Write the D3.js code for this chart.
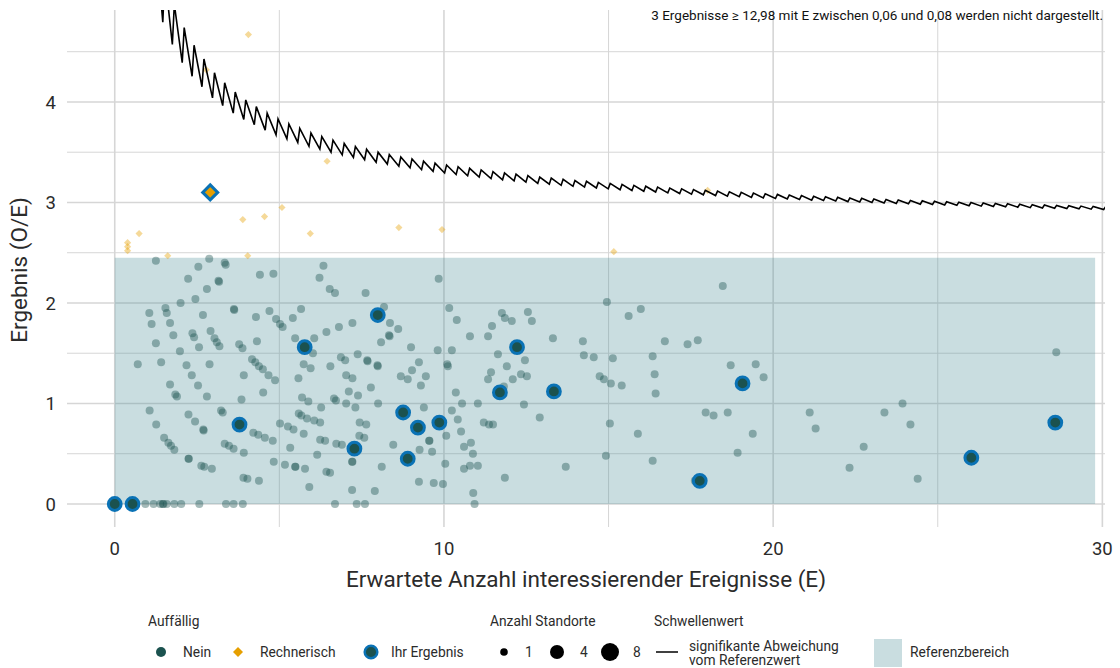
<!DOCTYPE html>
<html><head><meta charset="utf-8">
<script src="https://cdn.jsdelivr.net/npm/d3@7"></script>
<style>body{margin:0;background:#fff}svg{display:block;font-family:Roboto,"Noto Sans",sans-serif}</style>
</head><body><svg id="c" width="1120" height="668"></svg>
<script>
// ---------- data ----------
const xTicks=[0,10,20,30], xMinor=[5,15,25];
const yTicks=[0,1,2,3,4], yMinor=[0.5,1.5,2.5,3.5,4.5];
const refRange={e0:0,e1:29.78,lo:0,hi:2.45};
// "Nein" points
const neinE=[1.25,2.54,2.87,3.34,3.37,2.23,3.15,3.17,2.80,2.45,2.00,1.05,1.54,1.58,1.12,1.68,2.68,3.62,3.63,4.29,4.70,4.41,4.82,6.34,6.22,6.53,6.69,7.62,8.18,9.84,10.16,5.66,5.41,4.90,5.02,5.10,1.78,2.36,2.41,2.91,3.03,3.10,3.18,2.56,1.25,1.98,3.78,3.88,4.32,5.48,6.06,6.02,6.43,6.81,7.22,8.36,8.61,8.33,8.35,8.09,9.00,9.81,10.10,0.70,1.41,2.18,2.88,2.34,1.68,2.53,1.84,1.89,2.80,4.17,4.27,4.38,4.50,4.67,4.87,3.92,4.51,3.85,5.58,5.74,5.95,6.55,6.87,7.00,7.38,7.67,7.68,7.98,7.99,7.03,7.22,7.78,7.11,7.39,5.69,5.88,6.66,6.72,6.27,7.03,7.31,8.00,8.69,8.90,9.03,9.24,9.45,9.30,9.39,1.06,1.26,2.24,2.44,2.69,2.70,1.50,1.63,1.71,1.81,2.24,2.25,2.63,2.72,2.95,3.23,3.28,3.34,3.47,3.61,3.92,3.91,4.03,4.38,4.21,4.36,4.56,4.80,5.02,5.26,5.43,5.59,5.67,5.84,6.06,6.24,5.74,5.33,6.15,6.24,6.39,6.73,6.90,7.44,7.64,7.43,7.58,4.83,5.17,5.48,5.49,5.78,6.43,6.54,7.21,7.22,5.91,7.21,7.90,8.11,8.46,9.26,9.55,9.56,9.64,10.04,9.24,9.69,9.97,10.07,
0.93,1.18,1.38,1.46,1.48,1.58,1.81,2.02,2.57,3.38,3.61,3.89,6.69,7.35,7.60,10.93,10.89,
10.39,10.79,10.24,10.12,10.36,10.55,10.24,10.42,10.52,10.61,10.82,10.61,10.79,11.03,10.88,11.03,11.21,11.37,11.49,11.34,11.43,11.34,11.46,11.76,11.85,12.06,11.64,11.82,11.91,12.09,12.34,12.43,12.55,12.67,12.46,12.52,11.85,12.91,13.31,13.70,14.22,14.25,14.55,14.73,14.86,15.07,14.95,14.92,15.04,15.13,15.40,15.61,15.98,15.89,16.34,16.34,16.40,16.71,16.43,17.40,17.71,17.62,17.95,18.19,18.62,18.47,18.71,19.47,18.92,19.38,19.71,21.11,21.29,22.32,22.75,23.38,23.93,24.17,24.39,28.60];
const neinOE=[2.42,2.36,2.44,2.40,2.38,2.24,2.22,2.21,2.14,2.04,2.00,1.90,1.95,1.90,1.79,1.80,1.88,1.94,1.93,1.86,1.92,2.28,2.29,2.37,2.25,2.14,2.10,2.10,1.96,2.24,1.95,1.94,1.85,1.84,1.79,1.76,1.68,1.70,1.66,1.72,1.65,1.61,1.57,1.56,1.60,1.52,1.59,1.55,1.62,1.65,1.65,1.50,1.71,1.76,1.80,1.80,1.74,1.68,1.67,1.61,1.56,1.53,1.39,1.39,1.41,1.38,1.39,1.28,1.19,1.18,1.09,1.07,1.07,1.44,1.41,1.37,1.34,1.28,1.23,1.28,1.11,1.04,1.25,1.39,1.35,1.37,1.46,1.43,1.49,1.43,1.42,1.38,1.37,1.28,1.25,1.16,1.12,1.08,1.06,1.02,1.05,1.03,0.96,1.00,0.96,1.00,1.27,1.24,1.33,1.41,1.27,1.18,0.96,0.93,0.79,0.89,0.82,0.74,0.73,0.66,0.61,0.58,0.54,0.45,0.45,0.38,0.37,0.35,0.93,0.91,0.60,0.58,0.55,0.51,0.26,0.25,0.23,0.71,0.69,0.66,0.63,0.80,0.77,0.74,0.90,0.88,0.85,0.83,0.81,0.70,0.56,0.49,0.64,0.63,0.60,0.59,0.81,0.79,0.68,0.66,0.42,0.39,0.37,0.37,0.35,0.32,0.31,0.42,0.42,0.17,0.14,0.13,0.37,0.59,0.54,0.63,0.63,0.52,0.40,0.22,0.21,0.20,0.68,
0,0,0,0,0,0,0,0,0,0,0,0,0,0,0,0,0.11,
1.83,1.67,1.53,1.37,1.11,1.00,0.93,0.84,0.72,0.57,0.61,0.35,0.38,0.38,0.50,1.00,0.81,0.79,0.79,1.24,1.31,1.67,1.77,1.90,1.85,1.82,1.49,1.17,1.37,1.24,1.29,0.99,1.91,1.82,1.43,1.27,0.26,0.86,1.65,0.37,1.62,1.48,1.46,1.27,1.24,1.20,2.01,0.48,0.80,1.45,1.18,1.87,1.94,0.70,0.43,1.47,1.29,1.62,1.10,1.59,1.63,0.23,0.91,0.88,0.91,2.17,1.38,1.39,0.51,0.70,1.26,0.91,0.75,0.36,0.57,0.91,1.00,0.79,0.25,1.51];
// "Rechnerisch" points
const rechE=[0.39,0.39,0.39,0.74,1.61,2.78,4.06,3.89,4.04,4.55,5.08,5.94,6.45,8.63,9.94,15.16,18.01];
const rechOE=[2.60,2.56,2.52,2.69,2.47,4.32,4.67,2.83,2.47,2.86,2.95,2.69,3.41,2.75,2.73,2.51,3.12];
// "Ihr Ergebnis" points
const ihrE=[0.00,0.54,7.99,5.77,8.76,9.21,9.86,8.90,7.28,3.79,11.70,12.22,13.34,17.77,19.07,26.02,28.57,2.90];
const ihrOE=[0.00,0.00,1.88,1.56,0.91,0.76,0.81,0.45,0.55,0.79,1.11,1.56,1.12,0.23,1.20,0.46,0.81,3.10];
const ihrGroup=["Nein","Nein","Nein","Nein","Nein","Nein","Nein","Nein","Nein","Nein","Nein","Nein","Nein","Nein","Nein","Nein","Nein","Rechnerisch"];
// threshold: E values where the critical count steps up by one
const thrBreakE=[0.66,0.91,1.18,1.46,1.75,2.05,2.35,2.65,2.97,3.28,3.60,3.92,4.24,4.57,4.90,5.23,5.56,5.90,6.23,6.57,6.91,7.25,7.59,7.94,8.28,8.63,8.97,9.32,9.67,10.02,10.37,10.72,11.07,11.43,11.78,12.13,12.49,12.85,13.20,13.56,13.92,14.27,14.63,14.99,15.35,15.71,16.07,16.43,16.80,17.16,17.52,17.88,18.25,18.61,18.97,19.34,19.70,20.07,20.43,20.80,21.17,21.53,21.90,22.27,22.63,23.00,23.37,23.74,24.11,24.47,24.84,25.21,25.58,25.95,26.32,26.69,27.06,27.43,27.81,28.18,28.55,28.92,29.29,29.66,30.04];
const thrFirstCount=5;

// ---------- layout ----------
const P={l:67,r:1105,t:10,b:527};
const x=d3.scaleLinear().domain([-1.45,30.08]).range([P.l,P.r]);
const y=d3.scaleLinear().domain([-0.229,4.915]).range([P.b,P.t]);
const svg=d3.select("#c");
const C={nein:"#1b524f",rech:"#e69f00",ihr:"#0a72b5",grid:"#d6d6d6",text:"#2b2b2b"};

// grid
const g=svg.append("g");
g.selectAll("line.ymin").data(yMinor).join("line").attr("x1",P.l).attr("x2",P.r).attr("y1",d=>y(d)).attr("y2",d=>y(d)).attr("stroke",C.grid).attr("stroke-width",1);
g.selectAll("line.xmin").data(xMinor).join("line").attr("y1",P.t).attr("y2",P.b).attr("x1",d=>x(d)).attr("x2",d=>x(d)).attr("stroke",C.grid).attr("stroke-width",1);
g.selectAll("line.ymaj").data(yTicks).join("line").attr("x1",P.l).attr("x2",P.r).attr("y1",d=>y(d)).attr("y2",d=>y(d)).attr("stroke",C.grid).attr("stroke-width",1.6);
g.selectAll("line.xmaj").data(xTicks).join("line").attr("y1",P.t).attr("y2",P.b).attr("x1",d=>x(d)).attr("x2",d=>x(d)).attr("stroke",C.grid).attr("stroke-width",1.6);

// reference area
svg.append("rect").attr("x",x(refRange.e0)).attr("width",x(refRange.e1)-x(refRange.e0))
  .attr("y",y(refRange.hi)).attr("height",y(refRange.lo)-y(refRange.hi))
  .attr("fill","rgb(75,141,152)").attr("fill-opacity",0.3);

// clip
svg.append("clipPath").attr("id","pc").append("rect").attr("x",P.l).attr("y",P.t).attr("width",P.r-P.l).attr("height",P.b-P.t);
const plot=svg.append("g").attr("clip-path","url(#pc)");

const diamond=(h)=>`M0,${-h}L${h},0L0,${h}L${-h},0Z`;

// Nein points
plot.append("g").selectAll("circle").data(d3.range(neinE.length)).join("circle")
  .attr("cx",i=>x(neinE[i])).attr("cy",i=>y(neinOE[i])).attr("r",4)
  .attr("fill",C.nein).attr("fill-opacity",0.4);
// Rechnerisch points
plot.append("g").selectAll("path").data(d3.range(rechE.length)).join("path")
  .attr("transform",i=>`translate(${x(rechE[i])},${y(rechOE[i])})`).attr("d",diamond(3.6))
  .attr("fill",C.rech).attr("fill-opacity",0.4);

// threshold line
const verts=[[0.4,(thrFirstCount-1)/0.4]];
thrBreakE.forEach((e,i)=>{const k=thrFirstCount+i;verts.push([e,(k-1)/e]);verts.push([e+0.06,k/(e+0.06)]);});
const lastK=thrFirstCount+thrBreakE.length-1;
verts.push([30.4,lastK/30.4]);
plot.append("path").datum(verts).attr("d",d3.line().x(d=>x(d[0])).y(d=>y(d[1])))
  .attr("fill","none").attr("stroke","#000").attr("stroke-width",1.6).attr("stroke-linejoin","miter");

// Ihr Ergebnis points
const ih=plot.append("g");
d3.range(ihrE.length).forEach(i=>{
  if(ihrGroup[i]==="Rechnerisch"){
    ih.append("path").attr("transform",`translate(${x(ihrE[i])},${y(ihrOE[i])})`).attr("d",diamond(7.5))
      .attr("fill",C.rech).attr("stroke",C.ihr).attr("stroke-width",3);
  }else{
    ih.append("circle").attr("cx",x(ihrE[i])).attr("cy",y(ihrOE[i])).attr("r",6.4)
      .attr("fill",C.nein).attr("stroke",C.ihr).attr("stroke-width",3);
  }
});

// axes labels
svg.append("g").selectAll("text").data(yTicks).join("text").attr("x",56).attr("y",d=>y(d)).attr("dy","0.36em")
  .attr("text-anchor","end").attr("font-size",18.5).attr("fill",C.text).text(d=>d);
svg.append("g").selectAll("text").data(xTicks).join("text").attr("x",d=>x(d)).attr("y",555)
  .attr("text-anchor","middle").attr("font-size",18.5).attr("fill",C.text).text(d=>d);
svg.append("text").attr("x",586).attr("y",587).attr("text-anchor","middle").attr("font-size",22.5).attr("fill",C.text)
  .text("Erwartete Anzahl interessierender Ereignisse (E)");
svg.append("text").attr("transform","translate(27,270) rotate(-90)").attr("text-anchor","middle").attr("font-size",22.5).attr("fill",C.text)
  .text("Ergebnis (O/E)");

// annotation
svg.append("text").attr("x",1103).attr("y",20).attr("text-anchor","end").attr("font-size",13.5).attr("fill","#111")
  .text("3 Ergebnisse ≥ 12,98 mit E zwischen 0,06 und 0,08 werden nicht dargestellt.");

// legend
const L=svg.append("g").attr("font-size",13.8).attr("fill",C.text);
const ly=652, ty=626;
L.append("text").attr("x",148).attr("y",ty).text("Auffällig");
L.append("circle").attr("cx",161).attr("cy",ly).attr("r",5).attr("fill",C.nein);
L.append("text").attr("x",183).attr("y",ly).attr("dy","0.36em").text("Nein");
L.append("path").attr("transform",`translate(238,${ly})`).attr("d",diamond(5)).attr("fill",C.rech);
L.append("text").attr("x",260).attr("y",ly).attr("dy","0.36em").text("Rechnerisch");
L.append("circle").attr("cx",371).attr("cy",ly).attr("r",6.3).attr("fill",C.nein).attr("stroke",C.ihr).attr("stroke-width",2.5);
L.append("text").attr("x",391).attr("y",ly).attr("dy","0.36em").text("Ihr Ergebnis");
L.append("text").attr("x",490).attr("y",ty).text("Anzahl Standorte");
const sizes=[{v:1,cx:504,r:3.8,tx:525},{v:4,cx:557,r:7,tx:580},{v:8,cx:610,r:9,tx:633}];
sizes.forEach(s=>{L.append("circle").attr("cx",s.cx).attr("cy",ly).attr("r",s.r).attr("fill","#000");
  L.append("text").attr("x",s.tx).attr("y",ly).attr("dy","0.36em").text(s.v);});
L.append("text").attr("x",654).attr("y",ty).text("Schwellenwert");
L.append("line").attr("x1",656).attr("x2",678).attr("y1",ly).attr("y2",ly).attr("stroke","#000").attr("stroke-width",1.5);
L.append("text").attr("x",689).attr("y",ly-6).attr("dy","0.36em").text("signifikante Abweichung");
L.append("text").attr("x",689).attr("y",ly+8).attr("dy","0.36em").text("vom Referenzwert");
L.append("rect").attr("x",874).attr("y",639).attr("width",28).attr("height",28).attr("fill","rgb(75,141,152)").attr("fill-opacity",0.3);
L.append("text").attr("x",910).attr("y",ly).attr("dy","0.36em").text("Referenzbereich");
</script></body></html>
